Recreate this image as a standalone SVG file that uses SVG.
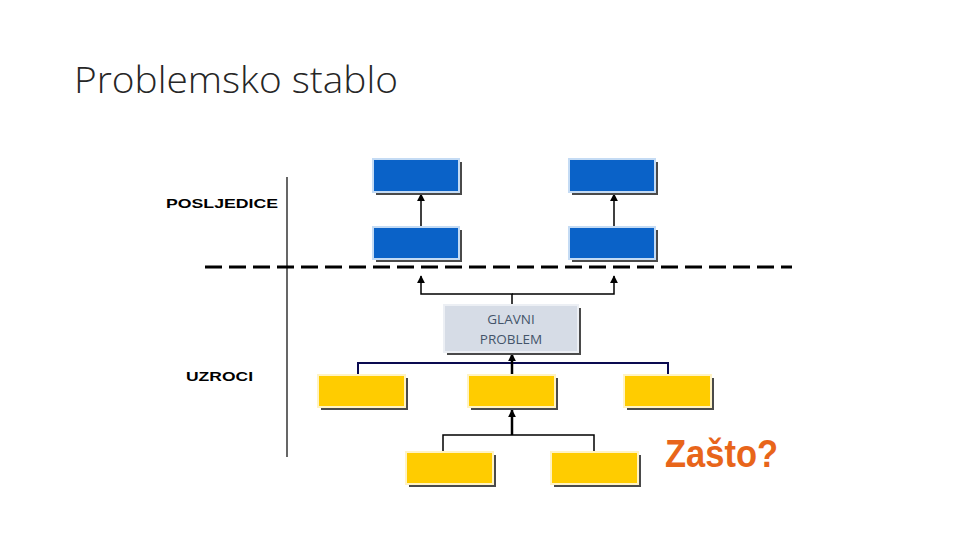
<svg xmlns="http://www.w3.org/2000/svg" width="960" height="540" viewBox="0 0 960 540">
<defs>
<style>
.shadow{fill:#4a4a4a}
.blue{fill:#0a62c8;stroke:#c4dbf4;stroke-width:2}
.yellow{fill:#ffcc00;stroke:#fff3c4;stroke-width:2}
.gray{fill:#d6dce6;stroke:#eceff4;stroke-width:2}
.ln{fill:none;stroke:#000;stroke-width:1.5}
.thick{fill:none;stroke:#000;stroke-width:2.5}
.lbl{font-family:"Liberation Sans",Arial,sans-serif;font-weight:bold;font-size:13px;fill:#000}
</style>
<marker id="ah" viewBox="0 0 10 10" refX="9" refY="5" markerWidth="5.5" markerHeight="5.5" markerUnits="strokeWidth" orient="auto">
<path d="M0,0 L10,5 L0,10 z" fill="#000"/>
</marker>
<marker id="ah2" viewBox="0 0 10 10" refX="9" refY="5" markerWidth="3.2" markerHeight="3.2" orient="auto">
<path d="M0,0 L10,5 L0,10 z" fill="#000"/>
</marker>
</defs>
<rect width="960" height="540" fill="#fff"/>
<text x="74" y="93" font-family="Open Sans,Liberation Sans,Arial,sans-serif" font-weight="300" font-size="37" fill="#262626" textLength="324" lengthAdjust="spacingAndGlyphs">Problemsko stablo</text>

<g id="connectors">
<path d="M287 177 V457" stroke="#000" stroke-width="1.2" fill="none"/>
<path d="M205 267 H792" stroke="#000" stroke-width="3" stroke-dasharray="17 7" fill="none"/>
<path class="ln" d="M421 227 V194" marker-end="url(#ah)"/>
<path class="ln" d="M614 227 V194" marker-end="url(#ah)"/>
<path class="ln" d="M512 305 V294 H421 V276" marker-end="url(#ah)"/>
<path class="ln" d="M512 294 H614 V276" marker-end="url(#ah)"/>
<path d="M358 375 V363 H668 V375" stroke="#0a0a50" stroke-width="2" fill="none"/>
<path class="thick" d="M512 375 V354" marker-end="url(#ah2)"/>
<path class="thick" d="M512 435 V410" marker-end="url(#ah2)"/>
<path class="ln" d="M443 452 V435 H594 V452"/>
</g>

<g id="posljedice-label"><text class="lbl" x="166" y="208" textLength="112" lengthAdjust="spacingAndGlyphs">POSLJEDICE</text></g>
<g id="uzroci-label"><text class="lbl" x="186" y="381" textLength="67" lengthAdjust="spacingAndGlyphs">UZROCI</text></g>

<g id="blue-top-left"><rect class="shadow" x="376" y="162" width="86" height="33"/><rect class="blue" x="373" y="159" width="86" height="33"/></g>
<g id="blue-top-right"><rect class="shadow" x="572" y="162" width="86" height="33"/><rect class="blue" x="569" y="159" width="86" height="33"/></g>
<g id="blue-bottom-left"><rect class="shadow" x="376" y="230" width="86" height="32"/><rect class="blue" x="373" y="227" width="86" height="32"/></g>
<g id="blue-bottom-right"><rect class="shadow" x="572" y="230" width="86" height="32"/><rect class="blue" x="569" y="227" width="86" height="32"/></g>

<g id="glavni-problem">
<rect class="shadow" x="447" y="308" width="134" height="47"/>
<rect class="gray" x="444" y="305" width="134" height="47"/>
<text x="511" y="324" text-anchor="middle" font-family="Open Sans,Liberation Sans,sans-serif" font-size="13.5" fill="#44546a">GLAVNI</text>
<text x="511" y="344" text-anchor="middle" font-family="Open Sans,Liberation Sans,sans-serif" font-size="13.5" fill="#44546a">PROBLEM</text>
</g>

<g id="cause-left"><rect class="shadow" x="321" y="378" width="87" height="32"/><rect class="yellow" x="318" y="375" width="87" height="32"/></g>
<g id="cause-middle"><rect class="shadow" x="471" y="378" width="87" height="32"/><rect class="yellow" x="468" y="375" width="87" height="32"/></g>
<g id="cause-right"><rect class="shadow" x="627" y="378" width="87" height="32"/><rect class="yellow" x="624" y="375" width="87" height="32"/></g>
<g id="subcause-left"><rect class="shadow" x="409" y="455" width="87" height="32"/><rect class="yellow" x="406" y="452" width="87" height="32"/></g>
<g id="subcause-right"><rect class="shadow" x="554" y="455" width="87" height="32"/><rect class="yellow" x="551" y="452" width="87" height="32"/></g>

<g id="zasto"><text x="665" y="467" font-family="Liberation Sans,Arial,sans-serif" font-weight="bold" font-size="38" fill="#e8651a" textLength="113" lengthAdjust="spacingAndGlyphs">Zašto?</text></g>
</svg>
